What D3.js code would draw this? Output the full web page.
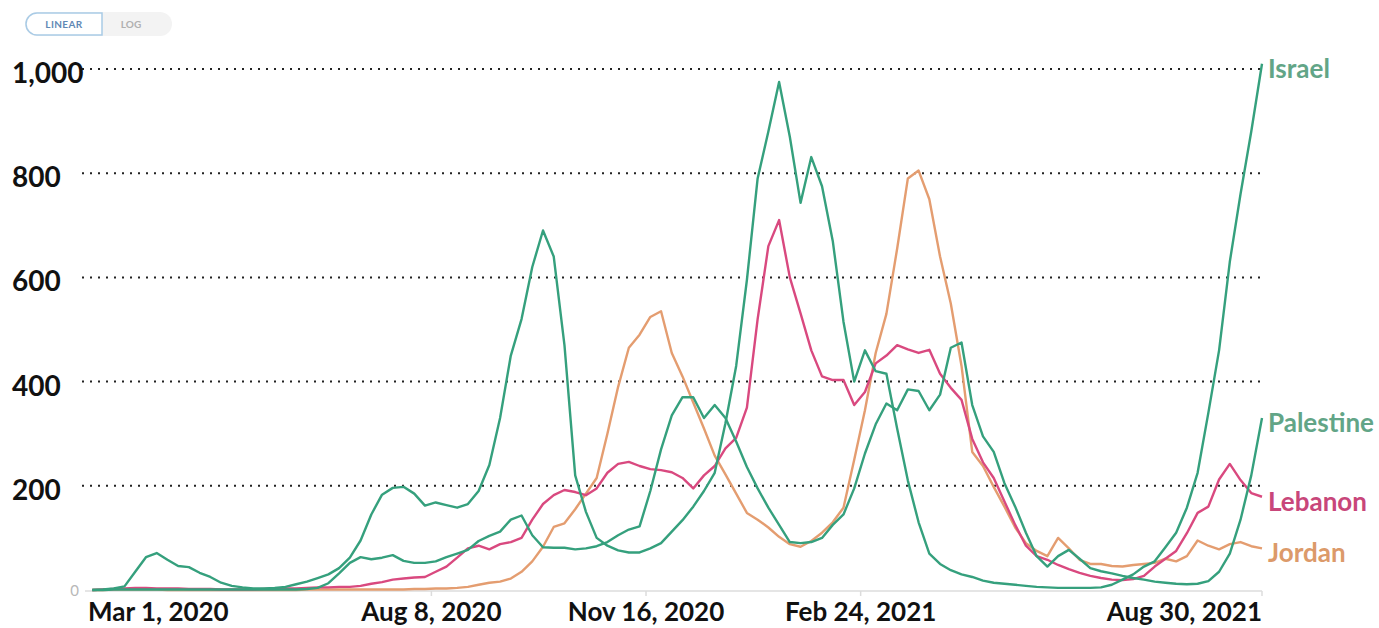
<!DOCTYPE html>
<html><head><meta charset="utf-8">
<script src="https://cdn.jsdelivr.net/npm/d3@7"></script>
<style>
body{margin:0;background:#fff;}
svg{display:block;font-family:Lato,"DejaVu Sans",sans-serif;}
</style></head><body>
<svg id="c" width="1379" height="628"></svg>
<script>
// ---- data (new cases per million, 7-day avg; one value every 5 days) ----
const startDate = "2020-03-03";
const stepDays = 5;
const seriesNames = ["Israel", "Palestine", "Lebanon", "Jordan"];
const israel = [
  0,1,3,7,35,63,71,58,46,44,
  33,25,14,8,5,3,3,4,6,11,
  16,23,30,42,62,95,145,183,196,198,
  185,162,168,163,158,165,190,240,330,450,
  520,620,690,640,470,220,150,100,85,76,
  72,72,80,90,112,134,160,190,225,320,
  430,595,790,880,975,870,743,831,775,670,
  515,400,460,420,415,310,210,130,70,50,
  38,30,25,18,14,12,10,8,6,5,
  4,4,4,4,5,10,20,30,45,55,
  82,110,158,225,340,460,630,760,880,1010];
const palestine = [
  0,0,1,1,1,1,1,1,1,1,
  1,1,1,1,1,1,1,1,1,1,
  2,4,13,32,52,63,59,62,67,56,
  52,52,55,63,70,77,94,104,112,135,
  143,105,82,81,81,78,80,84,92,105,
  116,122,190,270,335,370,370,330,355,330,
  285,236,195,158,125,92,90,92,100,125,
  145,195,262,318,358,345,385,382,345,375,
  465,475,355,295,265,205,160,110,65,45,
  65,77,60,42,36,32,27,23,20,16,
  14,12,11,12,17,35,70,135,220,330];
const lebanon = [
  0,1,2,3,4,4,3,3,3,2,
  2,2,1,1,1,1,2,2,3,3,
  4,5,5,6,6,8,12,15,20,22,
  24,25,35,45,62,80,85,78,88,92,
  100,135,165,182,192,188,182,195,225,242,
  246,238,232,230,226,215,195,220,238,272,
  292,350,520,660,710,600,531,460,410,403,
  403,355,380,435,450,470,462,455,461,415,
  388,365,290,245,215,170,125,85,65,58,
  48,40,33,27,23,20,19,21,27,45,
  60,75,109,148,160,212,242,211,186,179];
const jordan = [
  0,0,1,1,1,1,1,0,0,0,
  0,0,0,0,0,0,0,0,0,0,
  1,1,1,1,1,1,1,1,1,1,
  2,2,3,3,4,6,10,14,16,22,
  35,55,83,121,128,155,185,215,300,390,
  465,490,524,535,455,410,360,310,258,222,
  185,148,135,120,102,88,83,94,110,130,
  158,250,345,455,530,655,790,805,750,640,
  550,430,265,238,198,160,120,90,75,65,
  100,80,58,50,50,46,45,48,50,52,
  60,55,65,95,85,78,88,92,84,80];
const yTicks = [200, 400, 600, 800, 1000];
const yTickLabels = ["200", "400", "600", "800", "1,000"];
const xTickDates = ["2020-03-01", "2020-08-08", "2020-11-16", "2021-02-24", "2021-08-30"];
const xTickLabels = ["Mar 1, 2020", "Aug 8, 2020", "Nov 16, 2020", "Feb 24, 2021", "Aug 30, 2021"];

// ---- styling ----
const lineColors = {Israel:"#35a07d", Palestine:"#35a07d", Lebanon:"#d9497f", Jordan:"#e49d70"};
const labelColors = {Israel:"#62a587", Palestine:"#62a587", Lebanon:"#c8467a", Jordan:"#dc9a6a"};

const svg = d3.select("#c");
const parse = d3.utcParse("%Y-%m-%d");
const x = d3.scaleUtc()
  .domain([parse(xTickDates[0]), parse(xTickDates[xTickDates.length - 1])])
  .range([88, 1262]);
const y = d3.scaleLinear().domain([0, 1000]).range([590, 69]);

const t0 = parse(startDate);
const values = {Israel: israel, Palestine: palestine, Lebanon: lebanon, Jordan: jordan};
const series = seriesNames.map(name => ({
  name,
  points: values[name].map((v, i) => ({date: d3.utcDay.offset(t0, i * stepDays), v}))
}));

// toggle buttons
const btn = svg.append("g");
btn.append("path")
  .attr("d", "M37,12 H160 a12,12 0 0 1 0,24 H37 a12,12 0 0 1 0,-24 Z")
  .attr("fill", "#f3f3f3");
btn.append("path")
  .attr("d", "M37,13 H102 V35 H37 a11,11 0 0 1 0,-22 Z")
  .attr("fill", "#fff").attr("stroke", "#a9cbe6").attr("stroke-width", 1.5);
btn.append("text").attr("x", 64).attr("y", 28).attr("text-anchor", "middle")
  .attr("font-size", 10).attr("font-weight", 700).attr("fill", "#5f88b5")
  .attr("letter-spacing", 0.4).text("LINEAR");
btn.append("text").attr("x", 131).attr("y", 28).attr("text-anchor", "middle")
  .attr("font-size", 10).attr("font-weight", 700).attr("fill", "#b0b0b0")
  .text("LOG");

// gridlines
svg.append("g").selectAll("line").data(yTicks).join("line")
  .attr("x1", 82).attr("x2", x.range()[1])
  .attr("y1", d => y(d)).attr("y2", d => y(d))
  .attr("stroke", "#222").attr("stroke-width", 2)
  .attr("stroke-dasharray", "2,6");

// baseline and ticks
svg.append("line").attr("x1", 85).attr("x2", x.range()[1])
  .attr("y1", y(0) + 1).attr("y2", y(0) + 1)
  .attr("stroke", "#dcdcdc").attr("stroke-width", 1.5);
svg.append("g").selectAll("line").data(xTickDates.slice(1)).join("line")
  .attr("x1", d => x(parse(d))).attr("x2", d => x(parse(d)))
  .attr("y1", y(0) + 1).attr("y2", y(0) + 6)
  .attr("stroke", "#dcdcdc").attr("stroke-width", 1.5);

// y labels
svg.append("g").selectAll("text").data(yTicks).join("text")
  .attr("x", 12).attr("y", d => y(d) + 3)
  .attr("dominant-baseline", "central")
  .attr("font-size", 28).attr("font-weight", 700).attr("fill", "#111")
  .text((d, i) => yTickLabels[i]);
svg.append("text").attr("x", 79).attr("y", y(0))
  .attr("dominant-baseline", "central").attr("text-anchor", "end")
  .attr("font-size", 15).attr("fill", "#b8b8b8").text("0");

// x labels
svg.append("g").selectAll("text").data(xTickDates).join("text")
  .attr("x", d => x(parse(d)))
  .attr("y", 621)
  .attr("text-anchor", (d, i) => i === 0 ? "start" : (i === xTickDates.length - 1 ? "end" : "middle"))
  .attr("font-size", 26).attr("font-weight", 700).attr("fill", "#111")
  .text((d, i) => xTickLabels[i]);

// lines
const line = d3.line().x(d => x(d.date)).y(d => y(d.v)).curve(d3.curveLinear);
const drawOrder = ["Jordan", "Lebanon", "Palestine", "Israel"];
svg.append("g").selectAll("path")
  .data(drawOrder.map(n => series.find(s => s.name === n)))
  .join("path")
  .attr("d", d => line(d.points))
  .attr("fill", "none")
  .attr("stroke", d => lineColors[d.name])
  .attr("stroke-width", 2.4)
  .attr("stroke-linejoin", "round");

// end labels
svg.append("g").selectAll("text").data(series).join("text")
  .attr("x", d => x(d.points[d.points.length - 1].date) + 6)
  .attr("y", d => y(d.points[d.points.length - 1].v) + 4)
  .attr("dominant-baseline", "central")
  .attr("font-size", 26).attr("font-weight", 700)
  .attr("fill", d => labelColors[d.name])
  .text(d => d.name);
</script>
</body></html>
